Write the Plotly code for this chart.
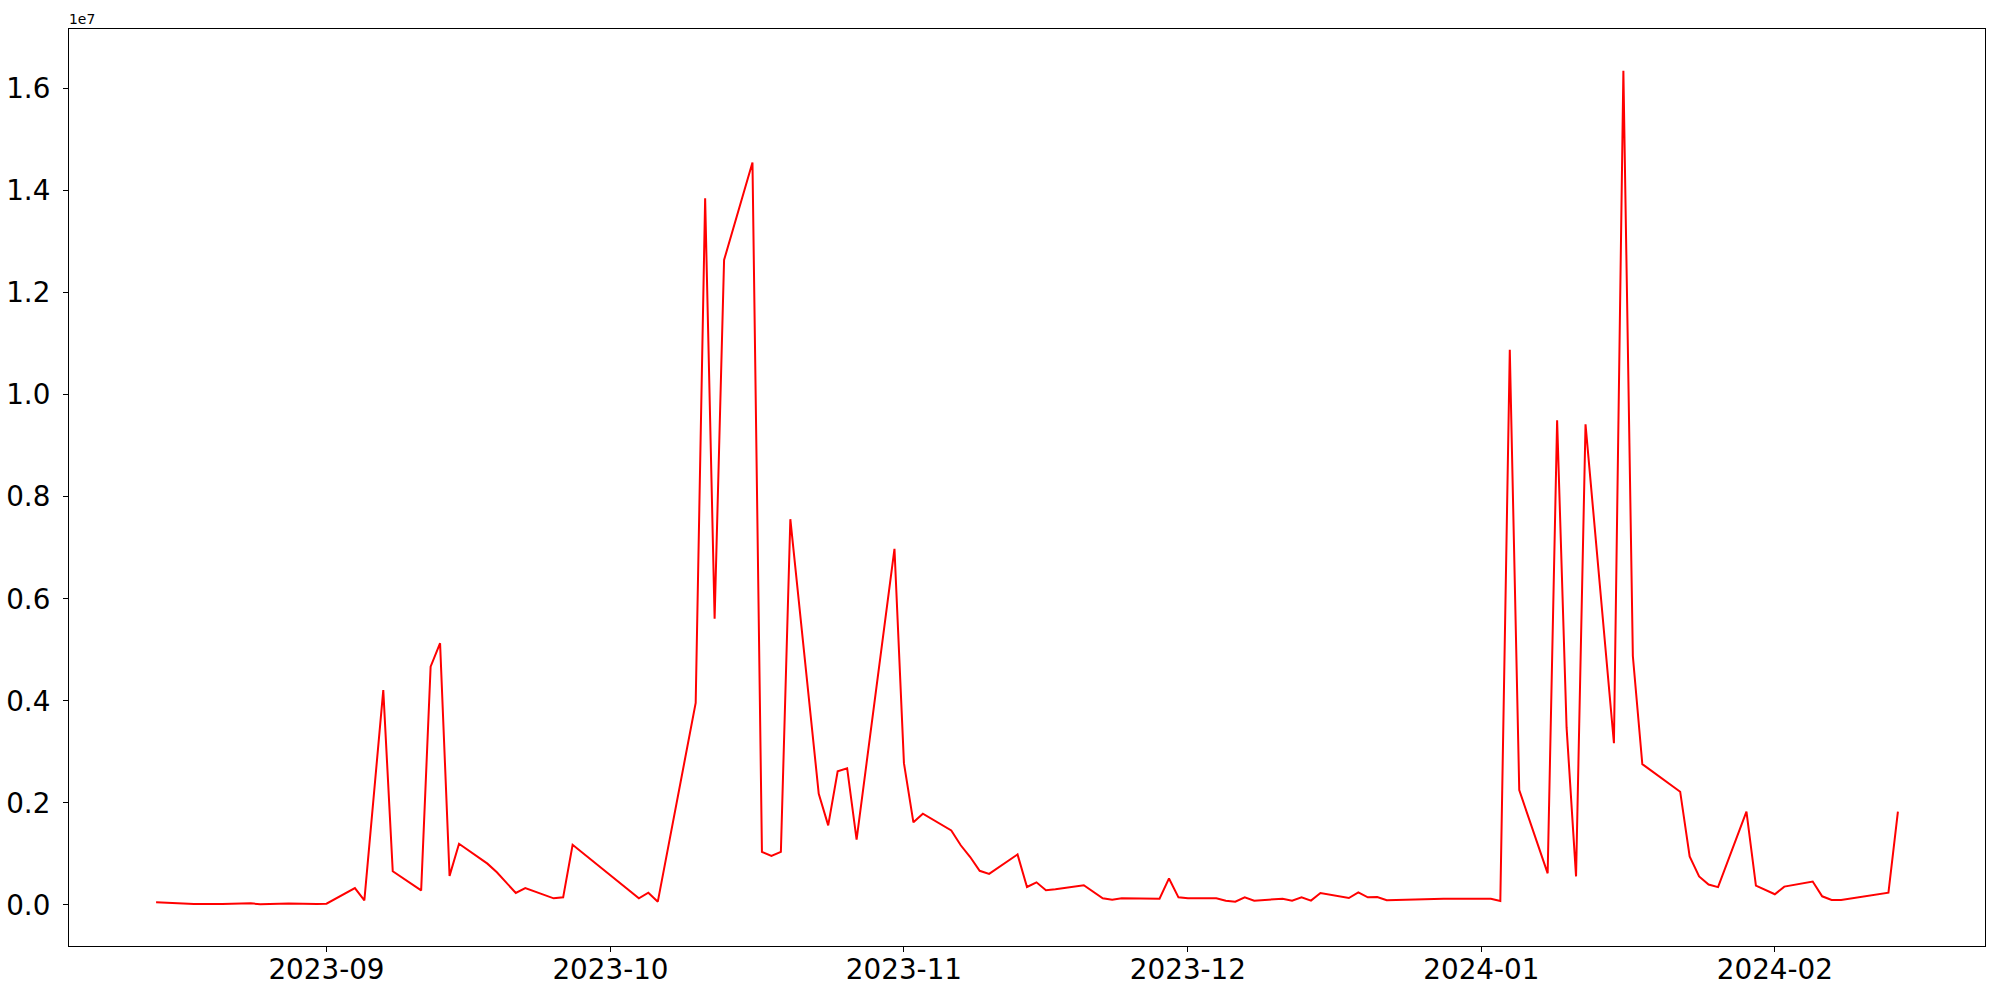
import plotly.graph_objects as go
import pandas as pd

dates = [
    "2023-08-14", "2023-08-16", "2023-08-18", "2023-08-21", "2023-08-23", "2023-08-24",
    "2023-08-25", "2023-08-28", "2023-08-31", "2023-09-01", "2023-09-04", "2023-09-05",
    "2023-09-07", "2023-09-08", "2023-09-11", "2023-09-12", "2023-09-13", "2023-09-14",
    "2023-09-15", "2023-09-18", "2023-09-19", "2023-09-21", "2023-09-22", "2023-09-25",
    "2023-09-26", "2023-09-27", "2023-10-04", "2023-10-05", "2023-10-06", "2023-10-10",
    "2023-10-11", "2023-10-12", "2023-10-13", "2023-10-16", "2023-10-17", "2023-10-18",
    "2023-10-19", "2023-10-20", "2023-10-23", "2023-10-24", "2023-10-25", "2023-10-26",
    "2023-10-27", "2023-10-31", "2023-11-01", "2023-11-02", "2023-11-03", "2023-11-06",
    "2023-11-07", "2023-11-08", "2023-11-09", "2023-11-10", "2023-11-13", "2023-11-14",
    "2023-11-15", "2023-11-16", "2023-11-17", "2023-11-20", "2023-11-22", "2023-11-23",
    "2023-11-24", "2023-11-27", "2023-11-28", "2023-11-29", "2023-11-30", "2023-12-01",
    "2023-12-04", "2023-12-05", "2023-12-06", "2023-12-07", "2023-12-08", "2023-12-11",
    "2023-12-12", "2023-12-13", "2023-12-14", "2023-12-15", "2023-12-18", "2023-12-19",
    "2023-12-20", "2023-12-21", "2023-12-22", "2023-12-26", "2023-12-28", "2024-01-02",
    "2024-01-03", "2024-01-04", "2024-01-05", "2024-01-08", "2024-01-09", "2024-01-10",
    "2024-01-11", "2024-01-12", "2024-01-15", "2024-01-16", "2024-01-17", "2024-01-18",
    "2024-01-22", "2024-01-23", "2024-01-24", "2024-01-25", "2024-01-26", "2024-01-29",
    "2024-01-30", "2024-02-01", "2024-02-02", "2024-02-05", "2024-02-06", "2024-02-07",
    "2024-02-08", "2024-02-13", "2024-02-14",
]

values = [
    52000, 40000, 20000, 20000, 20000, 33000,
    13000, 30000, 20000, 25000, 330000, 90000,
    4210000, 660000, 285000, 4670000, 5130000, 570000,
    1200000, 810000, 640000, 236000, 330000, 130000,
    150000, 1180000, 130000, 240000, 65000, 3960000,
    13850000, 5610000, 12640000, 14550000, 1040000, 960000,
    1040000, 7560000, 2180000, 1560000, 2620000, 2680000,
    1280000, 6980000, 2780000, 1620000, 1790000, 1460000,
    1170000, 940000, 670000, 610000, 990000, 353000,
    444000, 290000, 310000, 386000, 130000, 105000,
    130000, 118000, 124000, 520000, 150000, 130000,
    130000, 85000, 65000, 150000, 85000, 124000,
    85000, 150000, 85000, 235000, 137000, 248000,
    150000, 157000, 92000, 110000, 120000, 120000,
    80000, 10880000, 2250000, 620000, 9500000, 3480000,
    560000, 9420000, 3170000, 16350000, 4880000, 2760000,
    2220000, 950000, 560000, 400000, 350000, 1830000,
    380000, 210000, 360000, 460000, 170000, 100000,
    100000, 240000, 1830000,
]

x_tick_vals = ["2023-09-01", "2023-10-01", "2023-11-01", "2023-12-01", "2024-01-01", "2024-02-01"]
x_tick_text = ["2023-09", "2023-10", "2023-11", "2023-12", "2024-01", "2024-02"]
y_tick_vals = [0, 2e6, 4e6, 6e6, 8e6, 10e6, 12e6, 14e6, 16e6]
y_tick_text = ["0.0", "0.2", "0.4", "0.6", "0.8", "1.0", "1.2", "1.4", "1.6"]
offset_label = "1e7"

dt = pd.to_datetime(dates)
xmin, xmax = dt.min(), dt.max()
xpad = (xmax - xmin) * 0.05
ymin, ymax = min(values), max(values)
ypad = (ymax - ymin) * 0.05

fig = go.Figure()
fig.add_trace(go.Scatter(
    x=dt, y=values, mode="lines",
    line=dict(color="#ff0000", width=2),
    showlegend=False,
))

font = "DejaVu Sans, Arial, sans-serif"
axis_common = dict(
    showline=True, mirror=True, linecolor="black", linewidth=1.1,
    ticks="outside", ticklen=5, tickwidth=1.1, tickcolor="black",
    showgrid=False, zeroline=False, automargin=False,
    tickfont=dict(family=font, size=27.8, color="black"),
)

fig.update_layout(
    width=2000, height=1000,
    margin=dict(l=69, r=15, t=29, b=54),
    paper_bgcolor="white", plot_bgcolor="white",
    xaxis=dict(
        range=[xmin - xpad, xmax + xpad],
        tickmode="array", tickvals=pd.to_datetime(x_tick_vals), ticktext=x_tick_text,
        ticklabelstandoff=-6,
        **axis_common,
    ),
    yaxis=dict(
        range=[ymin - ypad, ymax + ypad],
        tickmode="array", tickvals=y_tick_vals, ticktext=y_tick_text,
        ticklabelstandoff=7,
        **axis_common,
    ),
    annotations=[dict(
        text=offset_label, x=0, y=1, xref="paper", yref="paper",
        xanchor="left", yanchor="bottom", showarrow=False, yshift=0,
        xshift=-2,
        font=dict(family=font, size=13.9, color="black"),
    )],
)

# remove the default page margin so the 2000x1000 figure fills the window exactly
fig.write_html(
    "out.html",
    config={"displayModeBar": False},
    post_script="document.body.style.margin='0';document.body.style.overflow='hidden';",
)
